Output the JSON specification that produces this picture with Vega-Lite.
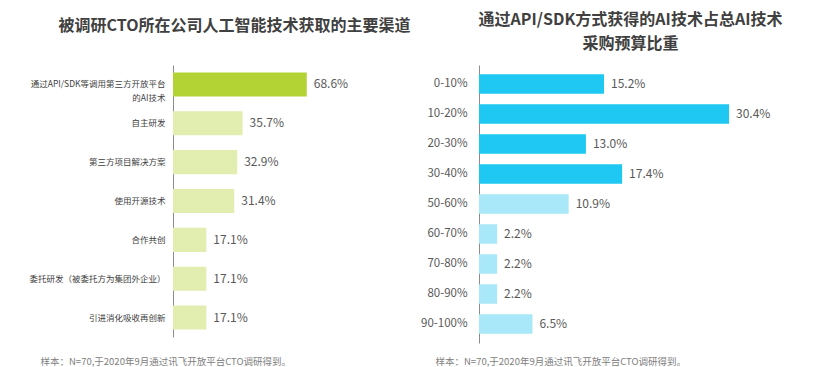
{
  "$schema": "https://vega.github.io/schema/vega-lite/v6.json",
  "background": "white",
  "padding": {"left": 28, "top": 12, "right": 5, "bottom": 5},
  "bounds": "flush",
  "spacing": 111,
  "resolve": {"scale": {"color": "independent"}},
  "config": {
    "view": {"stroke": null},
    "font": "Noto Sans CJK SC",
    "axis": {"grid": false}
  },
  "hconcat": [
    {
      "width": 195,
      "height": 272,
      "title": {
        "text": "被调研CTO所在公司人工智能技术获取的主要渠道",
        "fontSize": 16,
        "fontWeight": "bold",
        "color": "#404040",
        "anchor": "middle",
        "dx": -36,
        "offset": 31
      },
      "data": {
        "values": [
          {"channel": "通过API/SDK等调用第三方开放平台|的AI技术", "pct": 0.686, "group": "main"},
          {"channel": "自主研发", "pct": 0.357, "group": "other"},
          {"channel": "第三方项目解决方案", "pct": 0.329, "group": "other"},
          {"channel": "使用开源技术", "pct": 0.314, "group": "other"},
          {"channel": "合作共创", "pct": 0.171, "group": "other"},
          {"channel": "委托研发（被委托方为集团外企业）", "pct": 0.171, "group": "other"},
          {"channel": "引进消化吸收再创新", "pct": 0.171, "group": "other"}
        ]
      },
      "encoding": {
        "y": {
          "field": "channel",
          "type": "nominal",
          "sort": null,
          "scale": {"paddingInner": 0.38, "paddingOuter": 0.19},
          "axis": {
            "title": null,
            "ticks": false,
            "labelPadding": 8,
            "labelFontSize": 8.5,
            "labelColor": "#404040",
            "labelLimit": 0,
            "labelLineHeight": 14,
            "labelExpr": "split(datum.label, '|')",
            "domainColor": "#8c8c8c"
          }
        },
        "x": {
          "field": "pct",
          "type": "quantitative",
          "scale": {"domain": [0, 1]},
          "axis": {
            "title": "样本：N=70,于2020年9月通过讯飞开放平台CTO调研得到。",
            "labels": false,
            "ticks": false,
            "domain": false,
            "titleFontSize": 9.5,
            "titleFontWeight": "normal",
            "titleColor": "#808080",
            "titleAlign": "left",
            "titleBaseline": "middle",
            "titleX": -133,
            "titleY": 24
          }
        }
      },
      "layer": [
        {
          "mark": {"type": "bar"},
          "encoding": {
            "color": {
              "field": "group",
              "type": "nominal",
              "scale": {"domain": ["main", "other"], "range": ["#b3d334", "#e2eeb0"]},
              "legend": null
            }
          }
        },
        {
          "mark": {"type": "text", "align": "left", "baseline": "middle", "dx": 7, "fontSize": 12, "color": "#595959"},
          "encoding": {"text": {"field": "pct", "type": "quantitative", "format": ".1%"}}
        }
      ]
    },
    {
      "width": 329,
      "height": 278,
      "title": {
        "text": ["通过API/SDK方式获得的AI技术占总AI技术", "采购预算比重"],
        "fontSize": 16,
        "fontWeight": "bold",
        "color": "#404040",
        "anchor": "middle",
        "lineHeight": 24,
        "dx": -13,
        "offset": 13
      },
      "data": {
        "values": [
          {"share": "0-10%", "pct": 0.152, "group": "low"},
          {"share": "10-20%", "pct": 0.304, "group": "low"},
          {"share": "20-30%", "pct": 0.130, "group": "low"},
          {"share": "30-40%", "pct": 0.174, "group": "low"},
          {"share": "50-60%", "pct": 0.109, "group": "high"},
          {"share": "60-70%", "pct": 0.022, "group": "high"},
          {"share": "70-80%", "pct": 0.022, "group": "high"},
          {"share": "80-90%", "pct": 0.022, "group": "high"},
          {"share": "90-100%", "pct": 0.065, "group": "high"}
        ]
      },
      "encoding": {
        "y": {
          "field": "share",
          "type": "nominal",
          "sort": null,
          "scale": {"paddingInner": 0.35, "paddingOuter": 0.308},
          "axis": {
            "title": null,
            "ticks": false,
            "labelPadding": 12,
            "labelFontSize": 11.5,
            "labelColor": "#595959",
            "domainColor": "#8c8c8c"
          }
        },
        "x": {
          "field": "pct",
          "type": "quantitative",
          "scale": {"domain": [0, 0.4]},
          "axis": {
            "title": "样本：N=70,于2020年9月通过讯飞开放平台CTO调研得到。",
            "labels": false,
            "ticks": false,
            "domain": false,
            "titleFontSize": 9.5,
            "titleFontWeight": "normal",
            "titleColor": "#808080",
            "titleAlign": "left",
            "titleBaseline": "middle",
            "titleX": -44,
            "titleY": 18
          }
        }
      },
      "layer": [
        {
          "mark": {"type": "bar"},
          "encoding": {
            "color": {
              "field": "group",
              "type": "nominal",
              "scale": {"domain": ["low", "high"], "range": ["#1ec8f2", "#a9e8f8"]},
              "legend": null
            }
          }
        },
        {
          "mark": {"type": "text", "align": "left", "baseline": "middle", "dx": 7, "fontSize": 12, "color": "#595959"},
          "encoding": {"text": {"field": "pct", "type": "quantitative", "format": ".1%"}}
        }
      ]
    }
  ]
}
